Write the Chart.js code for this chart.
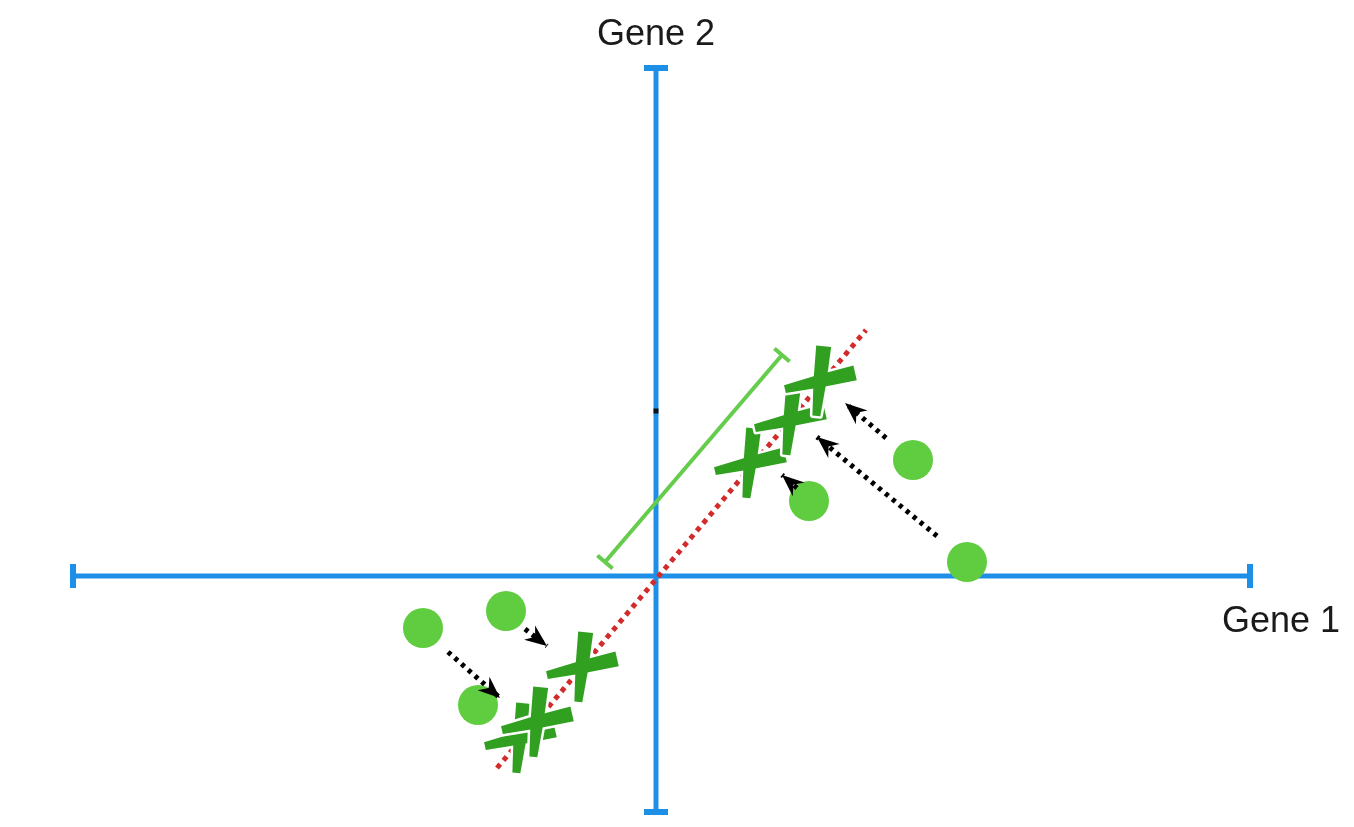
<!DOCTYPE html>
<html>
<head>
<meta charset="utf-8">
<script src="https://cdn.jsdelivr.net/npm/chart.js@4.4.1/dist/chart.umd.min.js"></script>
<style>
  html, body { margin: 0; padding: 0; background: #fff; }
  #wrap { width: 1354px; height: 827px; }
</style>
</head>
<body>
<div id="wrap"><canvas id="chart"></canvas></div>
<script>
// values in "gene units", origin where the two gene axes cross
const gene1Axis = [-11.66, 11.88];
const gene2Axis = [-4.72, 10.16];
const sampleX = [-4.66, -3.00, -3.56, 3.06, 5.14, 6.22];
const sampleY = [-1.04, -0.70, -2.58, 1.50, 2.32, 0.28];
const projX = [1.88, 2.68, 3.28, -1.48, -2.72, -2.38];
const projY = [2.26, 3.12, 3.90, -1.82, -3.24, -2.92];
const pc1X = [-3.18, 4.20];
const pc1Y = [-3.84, 4.92];
const spanX = [-1.02, 2.52];
const spanY = [0.28, 4.42];
const arrowFromX = [4.60, 5.62, 2.82, -4.16, -2.62];
const arrowFromY = [2.76, 0.80, 1.76, -1.52, -1.06];
const arrowToX = [3.78, 3.22, 2.52, -3.12, -2.18];
const arrowToY = [3.46, 2.78, 2.02, -2.44, -1.40];
const midMark = [0, 3.30];
const axisLabels = ['Gene 1', 'Gene 2'];

const BLUE = '#1e8fe6';
const LIGHT_GREEN = '#5fcd3f';
const DARK_GREEN = '#31a020';

// brush-like X used as point style for the projected samples
function makeCross() {
    const c = document.createElement('canvas');
    c.width = 100;
    c.height = 100;
    const g = c.getContext('2d');
    g.translate(50, 50);
    const strokes = [[-13, 36], [-84, 35]];
    const shape = (deg, half) => {
        const r = deg * Math.PI / 180;
        const ux = Math.cos(r), uy = Math.sin(r);
        const nx = -uy, ny = ux;
        g.beginPath();
        g.moveTo(-ux * half + nx * 4, -uy * half + ny * 4);
        g.lineTo(nx * 6.5, ny * 6.5);
        g.lineTo(ux * half + nx * 7.5, uy * half + ny * 7.5);
        g.lineTo(ux * half - nx * 7.5, uy * half - ny * 7.5);
        g.lineTo(-nx * 6.5, -ny * 6.5);
        g.lineTo(-ux * half - nx * 4, -uy * half - ny * 4);
        g.closePath();
    };
    g.fillStyle = '#fff';
    g.strokeStyle = '#fff';
    g.lineWidth = 5;
    g.lineJoin = 'round';
    strokes.forEach(([d, h]) => { shape(d, h); g.fill(); g.stroke(); });
    g.fillStyle = DARK_GREEN;
    strokes.forEach(([d, h]) => { shape(d, h); g.fill(); });
    return c;
}

const toPts = (xs, ys) => xs.map((v, i) => ({ x: v, y: ys[i] }));

// angle in degrees of a segment on screen, plus an offset
function screenAngle(chart, xs, ys, extra) {
    const sx = chart.scales.x, sy = chart.scales.y;
    const dx = sx.getPixelForValue(xs[1]) - sx.getPixelForValue(xs[0]);
    const dy = sy.getPixelForValue(ys[1]) - sy.getPixelForValue(ys[0]);
    return Math.atan2(dy, dx) * 180 / Math.PI + extra;
}

const arrowsAndLabels = {
    id: 'arrowsAndLabels',
    afterDatasetsDraw(chart) {
        const { ctx, scales: { x, y } } = chart;
        ctx.save();
        ctx.fillStyle = '#000';
        arrowToX.forEach((tx, i) => {
            const px = x.getPixelForValue(tx), py = y.getPixelForValue(arrowToY[i]);
            const fx = x.getPixelForValue(arrowFromX[i]), fy = y.getPixelForValue(arrowFromY[i]);
            ctx.save();
            ctx.translate(px, py);
            ctx.rotate(Math.atan2(py - fy, px - fx));
            ctx.beginPath();
            ctx.moveTo(0, 0);
            ctx.lineTo(-22, -9);
            ctx.lineTo(-15, 0);
            ctx.lineTo(-22, 9);
            ctx.closePath();
            ctx.fill();
            ctx.restore();
        });

        ctx.fillStyle = '#1a1a1a';
        ctx.font = '36px "Liberation Sans", Arial, sans-serif';
        ctx.textBaseline = 'alphabetic';
        ctx.textAlign = 'left';
        ctx.fillText(axisLabels[0], x.getPixelForValue(gene1Axis[1]) - 28, y.getPixelForValue(0) + 56);
        ctx.textAlign = 'center';
        ctx.fillText(axisLabels[1], x.getPixelForValue(0), y.getPixelForValue(gene2Axis[1]) - 23);
        ctx.restore();
    }
};

// one dotted segment per arrow, drawn on top
const arrowSets = arrowFromX.map((fx, i) => ({
    data: [{ x: fx, y: arrowFromY[i] }, { x: arrowToX[i], y: arrowToY[i] }],
    showLine: true,
    borderColor: '#000',
    borderWidth: 5,
    borderDash: [4, 5],
    borderCapStyle: 'butt',
    pointRadius: 0,
    order: 1
}));

const datasets = [
    ...arrowSets,
    {
        data: toPts(sampleX, sampleY),
        pointStyle: 'circle',
        pointRadius: 20,
        backgroundColor: LIGHT_GREEN,
        borderWidth: 0,
        order: 2
    },
    {
        data: toPts(projX, projY),
        pointStyle: makeCross(),
        pointRadius: 30,
        order: 3
    },
    {
        data: toPts(spanX, spanY),
        showLine: true,
        borderColor: '#66cc4d',
        borderWidth: 4,
        pointStyle: 'line',
        pointRadius: 10,
        pointBorderColor: '#66cc4d',
        pointBorderWidth: 4,
        pointRotation: (c) => screenAngle(c.chart, spanX, spanY, 90),
        order: 4
    },
    {
        data: toPts(pc1X, pc1Y),
        showLine: true,
        borderColor: '#d22b2b',
        borderWidth: 5,
        borderDash: [5, 5],
        borderCapStyle: 'butt',
        pointRadius: 0,
        order: 5
    },
    {
        data: [{ x: midMark[0], y: midMark[1] }],
        pointStyle: 'rect',
        pointRadius: 3.5,
        backgroundColor: '#111',
        borderWidth: 0,
        order: 6
    },
    {
        data: toPts(gene1Axis, [0, 0]),
        showLine: true,
        borderColor: BLUE,
        borderWidth: 5,
        pointStyle: 'line',
        pointRadius: 12,
        pointBorderColor: BLUE,
        pointBorderWidth: 6,
        pointRotation: 90,
        order: 7
    },
    {
        data: toPts([0, 0], gene2Axis),
        showLine: true,
        borderColor: BLUE,
        borderWidth: 5,
        pointStyle: 'line',
        pointRadius: 12,
        pointBorderColor: BLUE,
        pointBorderWidth: 6,
        pointRotation: 0,
        order: 8
    }
];

new Chart(document.getElementById('chart'), {
    type: 'scatter',
    data: { datasets: datasets },
    options: {
        responsive: true,
        maintainAspectRatio: false,
        animation: false,
        events: [],
        layout: { padding: 0, autoPadding: false },
        plugins: {
            legend: { display: false },
            tooltip: { enabled: false }
        },
        scales: {
            x: { type: 'linear', min: -13.12, max: 13.96, display: false },
            y: { type: 'linear', min: -5.02, max: 11.52, display: false }
        }
    },
    plugins: [arrowsAndLabels]
});
</script>
</body>
</html>
